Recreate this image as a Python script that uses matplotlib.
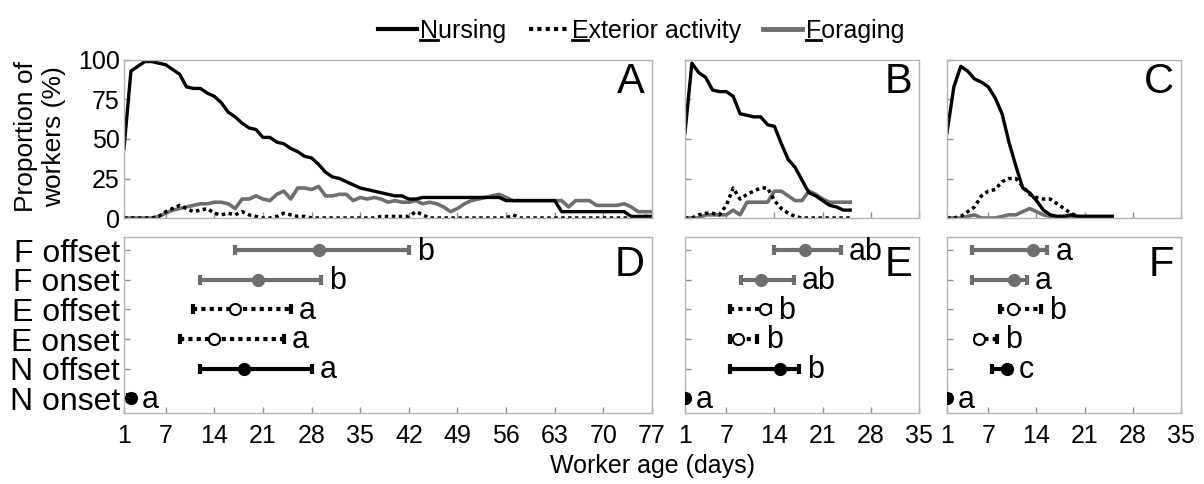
import numpy as np
import matplotlib
matplotlib.use("Agg")
import matplotlib.pyplot as plt
from matplotlib.lines import Line2D

plt.rcParams['font.family'] = ['Liberation Sans', 'DejaVu Sans']

# ---- top panels: proportion of workers per day ----
days_a = np.arange(1, 78)
nurse_a = [44, 93, 96, 99, 99, 98, 97, 94, 91, 83, 82, 82, 79, 77, 73, 67, 64, 60, 57, 56,
           51, 51, 48, 47, 44, 42, 39, 38, 34, 29, 26, 25, 23, 21, 19, 18, 17, 16, 15, 14,
           14, 12, 12, 13, 13, 13, 13, 13, 13, 13, 13, 13, 13, 13, 13, 11, 11, 11, 11, 11,
           11, 11, 11, 4, 4, 4, 4, 4, 4, 4, 4, 4, 4, 1, 1, 1, 1]
ext_a = [0, 0, 0, 0, 0, 1, 4, 6, 8, 6, 4, 5, 6, 3, 2, 3, 2, 4, 2, 1,
         0, 0, 1, 3, 2, 1, 1, 0, 0, 0, 0, 0, 0, 0, 0, 0, 0, 1, 1, 1,
         1, 1, 4, 2, 0, 0, 0, 0, 0, 0, 0, 0, 0, 0, 0, 0, 2, 0, 0, 0,
         0, 0, 0, 0, 0, 0, 0, 0, 0, 0, 0, 0, 0, 0, 0, 1, 1]
forage_a = [0, 0, 0, 0, 0, 1, 3, 5, 6, 7, 8, 9, 9, 10, 10, 9, 6, 12, 12, 14,
            12, 11, 15, 17, 12, 19, 19, 18, 20, 14, 14, 15, 15, 11, 13, 12, 13, 12, 10, 11,
            10, 10, 11, 9, 10, 9, 7, 4, 6, 9, 11, 12, 13, 14, 15, 13, 11, 11, 11, 11,
            11, 11, 11, 11, 7, 11, 11, 11, 8, 8, 8, 8, 9, 7, 4, 4, 4]

days_bc = np.arange(1, 26)
nurse_b = [54, 98, 92, 89, 81, 80, 80, 77, 66, 65, 64, 64, 59, 58, 47, 37, 32, 24, 16, 14, 11, 8, 7, 5, 5]
ext_b = [0, 0, 2, 3, 3, 2, 8, 19, 12, 15, 17, 19, 19, 11, 6, 3, 1, 0, 0, 0, 0, 0, 0, 0, 0]
forage_b = [0, 0, 0, 2, 2, 2, 2, 5, 2, 10, 10, 10, 10, 17, 17, 14, 11, 11, 17, 15, 12, 10, 10, 10, 10]

nurse_c = [54, 83, 96, 93, 88, 86, 83, 76, 66, 48, 33, 19, 16, 11, 5, 2, 1, 1, 2, 1, 1, 1, 1, 1, 1]
ext_c = [0, 0, 1, 4, 7, 14, 17, 18, 23, 25, 25, 20, 15, 13, 12, 12, 9, 6, 3, 1, 0, 0, 0, 0, 0]
forage_c = [0, 0, 0, 1, 2, 0, 0, 0, 1, 2, 2, 4, 6, 4, 2, 1, 1, 1, 1, 1, 1, 1, 1, 1, 1]

# ---- bottom panels: onset / offset (median and range) ----
cats = ['N onset', 'N offset', 'E onset', 'E offset', 'F onset', 'F offset']
mid_d = [2.0, 18.3, 14.0, 17.0, 20.3, 29.0]
lo_d = [1.6, 12.0, 9.0, 11.0, 12.0, 17.0]
hi_d = [2.4, 28.0, 24.0, 25.0, 29.3, 42.0]
let_d = ['a', 'a', 'a', 'a', 'b', 'b']

mid_e = [1.0, 14.8, 8.7, 12.6, 12.1, 18.5]
lo_e = [1.0, 7.6, 7.6, 7.6, 9.1, 14.0]
hi_e = [1.4, 17.6, 11.5, 13.3, 16.8, 23.6]
let_e = ['a', 'b', 'b', 'b', 'ab', 'ab']

mid_f = [1.0, 9.7, 5.7, 10.6, 10.7, 13.5]
lo_f = [1.0, 7.6, 5.2, 8.7, 4.7, 4.7]
hi_f = [1.4, 10.2, 8.2, 14.6, 12.6, 15.6]
let_f = ['a', 'c', 'b', 'b', 'a', 'a']

ticks_a = [1, 7, 14, 21, 28, 35, 42, 49, 56, 63, 70, 77]
ticks_bc = [1, 7, 14, 21, 28, 35]

GRAY = '#6e6e6e'
SPINE = '#b4b4b4'
DOT = (0, (1, 1))

W, H = 1204, 484
fig = plt.figure(figsize=(W / 100, H / 100), dpi=100)


def box(x0, x1, y0, y1):
    return [x0 / W, 1 - y1 / H, (x1 - x0) / W, (y1 - y0) / H]


cols = [(124, 652), (685, 919), (947, 1181)]
top_axes = [fig.add_axes(box(c[0], c[1], 60, 218)) for c in cols]
bot_axes = [fig.add_axes(box(c[0], c[1], 237, 413)) for c in cols]


def style(ax):
    for s in ax.spines.values():
        s.set_color(SPINE)
        s.set_linewidth(1)
    ax.tick_params(direction='in', length=4, width=1, color='#909090',
                   labelsize=18, pad=8)


top_data = [(days_a, nurse_a, ext_a, forage_a, 77, ticks_a, 'A'),
            (days_bc, nurse_b, ext_b, forage_b, 35, ticks_bc, 'B'),
            (days_bc, nurse_c, ext_c, forage_c, 35, ticks_bc, 'C')]

for i, (ax, (d, n, e, f, xmax, tk, lab)) in enumerate(zip(top_axes, top_data)):
    ax.plot(d, f, color=GRAY, lw=2.6)
    ax.plot(d, e, color='black', lw=2.5, ls=DOT)
    ax.plot(d, n, color='black', lw=2.4)
    ax.set_xlim(1, xmax)
    ax.set_ylim(0, 100)
    ax.set_xticks(tk)
    ax.set_xticklabels([])
    ax.set_yticks([0, 25, 50, 75, 100])
    if i > 0:
        ax.set_yticklabels([])
    style(ax)
    ax.tick_params(axis='y', pad=3)
    ax.text(1 - 7 / ax.bbox.width, 1 - 2 / ax.bbox.height, lab, transform=ax.transAxes,
            ha='right', va='top', fontsize=30)

bot_data = [(mid_d, lo_d, hi_d, let_d, 77, ticks_a, 'D'),
            (mid_e, lo_e, hi_e, let_e, 35, ticks_bc, 'E'),
            (mid_f, lo_f, hi_f, let_f, 35, ticks_bc, 'F')]

ypos = np.arange(1, 7)
for i, (ax, (m, lo, hi, lets, xmax, tk, lab)) in enumerate(zip(bot_axes, bot_data)):
    for j in range(6):
        kind = cats[j][0]
        col = GRAY if kind == 'F' else 'black'
        ls = DOT if kind == 'E' else '-'
        ax.plot([lo[j], hi[j]], [ypos[j], ypos[j]], color=col, lw=3, ls=ls,
                solid_capstyle='butt', dash_capstyle='butt')
        ax.plot([lo[j], hi[j]], [ypos[j], ypos[j]], ls='none', marker='|',
                ms=7, mew=3, color=col)
        face = 'white' if kind == 'E' else col
        ax.plot(m[j], ypos[j], marker='o', ms=8, mfc=face, mec=col, mew=1.5,
                ls='none', zorder=5)
        ax.annotate(lets[j], (max(hi[j], m[j]), ypos[j]), xytext=(6, -1),
                    textcoords='offset points', ha='left', va='center', fontsize=22)
    ax.set_xlim(1, xmax)
    ax.set_ylim(0.5, 6.45)
    ax.set_xticks(tk)
    ax.set_yticks(ypos)
    style(ax)
    if i == 0:
        ax.set_yticklabels(cats, fontsize=23)
        ax.tick_params(axis='y', pad=3)
    else:
        ax.set_yticklabels([])
    ax.text(1 - 7 / ax.bbox.width, 1 - 8 / ax.bbox.height, lab, transform=ax.transAxes,
            ha='right', va='top', fontsize=30)

fig.text(40 / W, 1 - 137 / H, 'Proportion of\nworkers (%)', rotation=90,
         ha='center', va='center', fontsize=19, linespacing=1.25)
fig.text(652 / W, 1 - 466 / H, 'Worker age (days)', ha='center', va='center', fontsize=18)

handles = [Line2D([], [], color='black', lw=3),
           Line2D([], [], color='black', lw=3, ls=DOT),
           Line2D([], [], color=GRAY, lw=3.5)]
labels = ['Nursing', 'Exterior activity', 'Foraging']
leg = fig.legend(handles, labels, loc='center', bbox_to_anchor=(641 / W, 1 - 31 / H),
                 ncol=3, frameon=False, fontsize=18, handlelength=1.55,
                 handletextpad=0.15, columnspacing=0.9)

# underline the first letter of each legend entry
fig.canvas.draw()
r = fig.canvas.get_renderer()
inv = fig.transFigure.inverted()
for t in leg.get_texts():
    bb = t.get_window_extent(r)
    tmp = fig.text(0, 0, t.get_text()[0], fontsize=t.get_fontsize())
    w = tmp.get_window_extent(r).width
    tmp.remove()
    y = bb.y0 + 3
    p0 = inv.transform((bb.x0, y))
    p1 = inv.transform((bb.x0 + w, y))
    fig.add_artist(Line2D([p0[0], p1[0]], [p0[1], p1[1]], color='black', lw=2,
                          transform=fig.transFigure))

fig.savefig('out.png', dpi=100)
